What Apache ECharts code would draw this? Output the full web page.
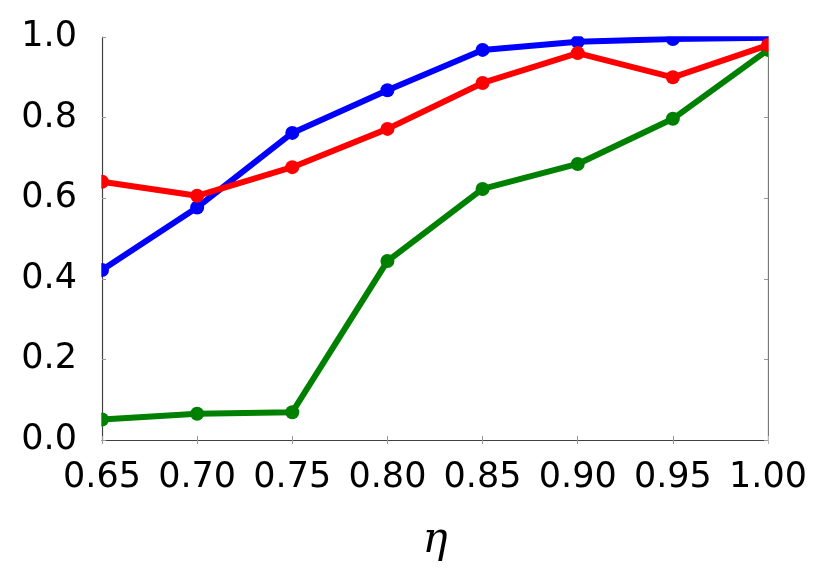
<!DOCTYPE html>
<html>
<head>
<meta charset="utf-8">
<script src="https://cdn.jsdelivr.net/npm/echarts@6/dist/echarts.min.js"></script>
<style>html,body{margin:0;padding:0;background:#fff;}#c{width:830px;height:581px;}</style>
</head>
<body>
<div id="c"></div>
<script>
const categories = ['0.65','0.70','0.75','0.80','0.85','0.90','0.95','1.00'];
const blueValues  = [0.422, 0.577, 0.762, 0.868, 0.968, 0.988, 0.995, 0.998];
const redValues   = [0.641, 0.606, 0.677, 0.772, 0.886, 0.960, 0.900, 0.980];
const greenValues = [0.051, 0.065, 0.069, 0.444, 0.623, 0.685, 0.797, 0.968];
const yTicks = [0, 0.2, 0.4, 0.6, 0.8, 1.0];

const chart = echarts.init(document.getElementById('c'), null, {renderer: 'canvas'});
const font = 'DejaVu Sans';
const axisLineStyle = {color: '#404040', width: 1.2};
const tickStyle = {color: '#999', width: 1};
function lineSeries(name, data, color, z) {
  return {
    name, type: 'line', data, z,
    lineStyle: {color, width: 6},
    itemStyle: {color},
    symbol: 'circle', symbolSize: 14,
    clip: true,
    animation: false
  };
}
// white masks outside the plot frame so edge markers appear clipped like the reference
const GL = 102, GT = 37, GW = 666, GH = 403;
chart.setOption({
  animation: false,
  grid: {left: GL, top: GT, width: GW, height: GH, show: false, containLabel: false, outerBoundsMode: 'none'},
  graphic: [
    {type: 'rect', z: 100, silent: true, shape: {x: GL - 14, y: GT - 16, width: 13.3, height: GH + 24}, style: {fill: '#fff'}},
    {type: 'rect', z: 100, silent: true, shape: {x: GL - 14, y: GT - 16, width: GW + 30, height: 15.3}, style: {fill: '#fff'}},
    {type: 'rect', z: 100, silent: true, shape: {x: GL + GW + 0.7, y: GT - 16, width: 16, height: GH + 24}, style: {fill: '#fff'}}
  ],
  xAxis: [{
    type: 'category', data: categories, boundaryGap: false,
    axisLine: {show: true, lineStyle: axisLineStyle},
    axisTick: {show: true, inside: true, length: 4, lineStyle: tickStyle, alignWithLabel: true, interval: 0},
    axisLabel: {fontFamily: font, fontSize: 35, color: '#000', margin: 20, interval: 0, hideOverlap: false},
    splitLine: {show: false},
    name: 'η', nameLocation: 'middle', nameGap: 80,
    nameTextStyle: {fontFamily: 'DejaVu Serif', fontStyle: 'italic', fontSize: 42, color: '#000'}
  }, {
    type: 'category', data: categories, boundaryGap: false, position: 'top',
    axisLine: {show: true, lineStyle: axisLineStyle},
    axisTick: {show: true, inside: true, length: 4, lineStyle: tickStyle, interval: 0},
    axisLabel: {show: false}, splitLine: {show: false}
  }],
  yAxis: [{
    type: 'value', min: 0, max: 1, interval: 0.2,
    axisLine: {show: true, lineStyle: axisLineStyle},
    axisTick: {show: true, inside: true, length: 4, lineStyle: tickStyle},
    axisLabel: {fontFamily: font, fontSize: 35, color: '#000', margin: 25,
      formatter: v => yTicks.includes(Math.round(v*10)/10) ? v.toFixed(1) : ''},
    splitLine: {show: false}
  }, {
    type: 'value', min: 0, max: 1, interval: 0.2, position: 'right',
    axisLine: {show: true, lineStyle: axisLineStyle},
    axisTick: {show: true, inside: true, length: 4, lineStyle: tickStyle},
    axisLabel: {show: false}, splitLine: {show: false}
  }],
  series: [
    lineSeries('blue', blueValues, '#0000ff', 2),
    lineSeries('green', greenValues, '#008000', 3),
    lineSeries('red', redValues, '#ff0000', 4)
  ]
});
</script>
</body>
</html>
